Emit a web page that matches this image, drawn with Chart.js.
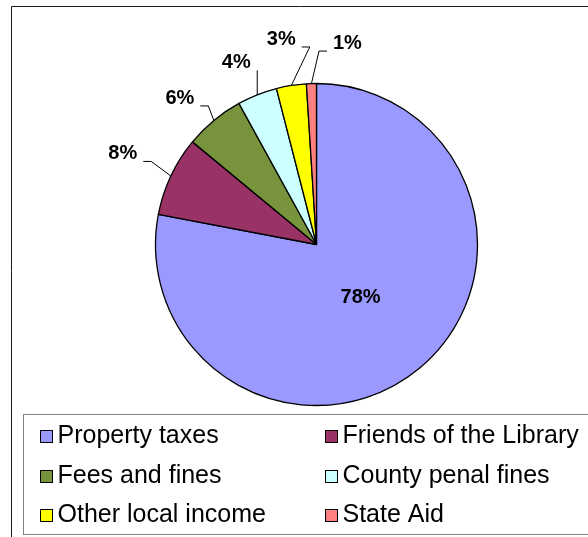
<!DOCTYPE html>
<html>
<head>
<meta charset="utf-8">
<script src="https://cdn.jsdelivr.net/npm/chart.js@4.4.1/dist/chart.umd.min.js"></script>
<style>
  html, body { margin: 0; padding: 0; background: #fff; }
  #wrap { width: 588px; height: 537px; position: relative; }
</style>
</head>
<body>
<div id="wrap"><canvas id="incomeChart"></canvas></div>
<script>
const categories = ["Property taxes", "Friends of the Library", "Fees and fines", "County penal fines", "Other local income", "State Aid"];
const shares = [78, 8, 6, 4, 3, 1];
const sliceColors = ["#9999ff", "#993366", "#77933c", "#ccffff", "#ffff00", "#ff8080"];

// where each percent label sits, relative to the outer middle of its slice (null = inside)
const labelShift = [null, [-48, -22], [-34, -22], [-21, -32], [-10, -46], [36, -40]];

const total = shares.reduce((s, v) => s + v, 0);
const pct = v => Math.round(v / total * 100) + "%";

// outer chart border (only the left and top edges show in the picture)
const frame = {
    id: "frame",
    beforeDraw(chart) {
        const ctx = chart.ctx;
        ctx.save();
        ctx.fillStyle = "#fff";
        ctx.fillRect(0, 0, chart.width, chart.height);
        ctx.strokeStyle = "#1a1a1a";
        ctx.lineWidth = 1;
        ctx.beginPath();
        ctx.moveTo(11.5, chart.height);
        ctx.lineTo(11.5, 6.5);
        ctx.lineTo(chart.width, 6.5);
        ctx.stroke();
        ctx.restore();
    }
};

// two-column legend in a grey box
const boxLegend = {
    id: "boxLegend",
    afterDraw(chart) {
        const ctx = chart.ctx;
        const ds = chart.data.datasets[0];
        ctx.save();
        ctx.strokeStyle = "#808080";
        ctx.lineWidth = 1;
        ctx.strokeRect(23.5, 414.5, chart.width, 120);
        ctx.font = "25px 'Liberation Sans', Arial, sans-serif";
        ctx.textBaseline = "alphabetic";
        ctx.textAlign = "left";
        chart.data.labels.forEach((lab, i) => {
            const x = i % 2 === 0 ? 40.5 : 325.5;
            const base = 443 + Math.floor(i / 2) * 39.5;
            const top = Math.round(base - 13) + 0.5;
            ctx.fillStyle = ds.backgroundColor[i];
            ctx.fillRect(x, top, 12, 12);
            ctx.strokeStyle = "#000";
            ctx.strokeRect(x, top, 12, 12);
            ctx.fillStyle = "#000";
            ctx.fillText(lab, x + 17, base);
        });
        ctx.restore();
    }
};

// percent labels with leader lines
const percentLabels = {
    id: "percentLabels",
    afterDatasetsDraw(chart) {
        const ctx = chart.ctx;
        const meta = chart.getDatasetMeta(0);
        ctx.save();
        ctx.font = "bold 20px 'Liberation Sans', Arial, sans-serif";
        ctx.fillStyle = "#000";
        ctx.strokeStyle = "#000";
        ctx.lineWidth = 1;
        ctx.textAlign = "center";
        ctx.textBaseline = "middle";
        meta.data.forEach((arc, i) => {
            const {x, y, startAngle, endAngle, outerRadius} =
                arc.getProps(["x", "y", "startAngle", "endAngle", "outerRadius"], true);
            const mid = (startAngle + endAngle) / 2;
            const text = pct(shares[i]);
            const shift = labelShift[i];
            if (!shift) {
                const r = outerRadius * 0.43;
                ctx.fillText(text, x + Math.cos(mid) * r, y + Math.sin(mid) * r);
                return;
            }
            const px = x + Math.cos(mid) * outerRadius;
            const py = y + Math.sin(mid) * outerRadius;
            const lx = px + shift[0];
            const ly = py + shift[1];
            ctx.fillText(text, lx, ly);

            const w = ctx.measureText(text).width;
            const bottom = ly + 7.5;
            const side = px > lx ? 1 : -1;
            const sx = lx + side * (w / 2 + 6);
            ctx.beginPath();
            if (Math.abs(px - sx) < 10) {
                ctx.moveTo(px, Math.abs(px - lx) < w / 2 ? bottom + 6 : bottom);
                ctx.lineTo(px, py);
            } else {
                ctx.moveTo(sx, bottom);
                ctx.lineTo(sx + side * 8, bottom);
                ctx.lineTo(px, py);
            }
            ctx.stroke();
        });
        ctx.restore();
    }
};

Chart.defaults.font.family = "'Liberation Sans', Arial, sans-serif";

const ctx = document.getElementById("incomeChart").getContext("2d");
const chart = new Chart(ctx, {
    type: "pie",
    data: {
        labels: categories,
        datasets: [{
            data: shares,
            backgroundColor: sliceColors,
            borderColor: "#000",
            borderWidth: 1.3,
            radius: 161
        }]
    },
    options: {
        responsive: true,
        maintainAspectRatio: false,
        animation: false,
        events: [],
        layout: { padding: { left: 140, right: 95, top: 80, bottom: 128 } },
        plugins: {
            legend: { display: false },
            tooltip: { enabled: false }
        }
    },
    plugins: [frame, percentLabels, boxLegend]
});
</script>
</body>
</html>
